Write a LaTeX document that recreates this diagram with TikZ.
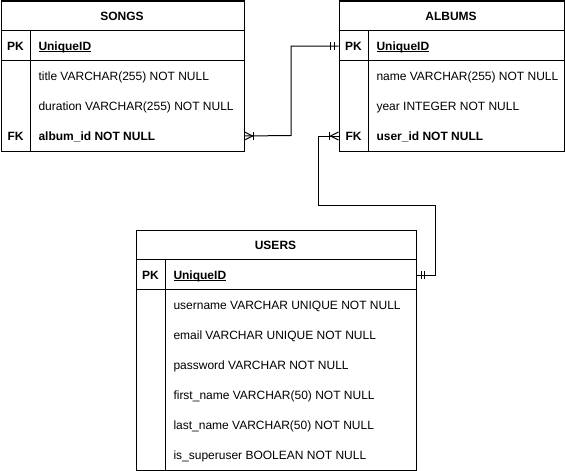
\documentclass[tikz,border=0pt]{standalone}
\usepackage{fontspec}
\setmainfont{Liberation Sans}
\usetikzlibrary{calc}
\newcommand\myul[1]{\setbox0\hbox{#1}\rlap{\rule[-2pt]{\wd0}{0.9pt}}#1}
\begin{document}
\begin{tikzpicture}[x=1pt,y=-1pt,line width=1pt,
  tbl/.style={draw,rectangle,inner sep=0pt,anchor=north west},
  rowbox/.style={rectangle,inner sep=0pt,minimum height=30pt,anchor=north west},
  hdr/.style={font=\bfseries\fontsize{12}{14}\selectfont,inner sep=0pt,anchor=base},
  keylbl/.style={font=\bfseries\fontsize{12}{14}\selectfont,inner sep=0pt,anchor=base},
  fld/.style={font=\fontsize{12}{14}\selectfont,anchor=base west,inner sep=0pt},
  fldb/.style={font=\bfseries\fontsize{12}{14}\selectfont,anchor=base west,inner sep=0pt},
  conn/.style={line width=1pt},
  ermark/.style={line width=1pt}]
\useasboundingbox (0,0) rectangle (565,471);

% ---------------- SONGS ----------------
\node[tbl,minimum width=243pt,minimum height=150pt] (songs) at (0.5,0.5) {};
\node[rowbox,minimum width=243pt] (sH) at (0.5,0.5) {};
\node[rowbox,minimum width=243pt] (sPK) at (0.5,30.5) {};
\node[rowbox,minimum width=243pt] (sR1) at (0.5,60.5) {};
\node[rowbox,minimum width=243pt] (sR2) at (0.5,90.5) {};
\node[rowbox,minimum width=243pt] (sFK) at (0.5,120.5) {};
\draw (0.5,30.5) -- (243.5,30.5);
\draw (0.5,60.5) -- (243.5,60.5);
\draw (30.5,30.5) -- (30.5,150.5);
\node[hdr] (sHt) at (122,20) {SONGS};
\node[keylbl] (sPKk) at (15.5,50) {PK};
\node[fldb] (sPKt) at (38,50) {\myul{UniqueID}};
\node[fld] (sR1t) at (38,80) {title VARCHAR(255) NOT NULL};
\node[fld] (sR2t) at (38,110) {duration VARCHAR(255) NOT NULL};
\node[keylbl] (sFKk) at (15.5,140) {FK};
\node[fldb] (sFKt) at (38,140) {album\_id NOT NULL};

% ---------------- ALBUMS ----------------
\node[tbl,minimum width=225pt,minimum height=150pt] (albums) at (338.5,0.5) {};
\node[rowbox,minimum width=225pt] (aH) at (338.5,0.5) {};
\node[rowbox,minimum width=225pt] (aPK) at (338.5,30.5) {};
\node[rowbox,minimum width=225pt] (aR1) at (338.5,60.5) {};
\node[rowbox,minimum width=225pt] (aR2) at (338.5,90.5) {};
\node[rowbox,minimum width=225pt] (aFK) at (338.5,120.5) {};
\draw (338.5,30.5) -- (563.5,30.5);
\draw (338.5,60.5) -- (563.5,60.5);
\draw (368.5,30.5) -- (368.5,150.5);
\node[hdr] (aHt) at (451,20) {ALBUMS};
\node[keylbl] (aPKk) at (353.5,50) {PK};
\node[fldb] (aPKt) at (376,50) {\myul{UniqueID}};
\node[fld] (aR1t) at (376,80) {name VARCHAR(255) NOT NULL};
\node[fld] (aR2t) at (376,110) {year INTEGER NOT NULL};
\node[keylbl] (aFKk) at (353.5,140) {FK};
\node[fldb] (aFKt) at (376,140) {user\_id NOT NULL};

% ---------------- USERS ----------------
\node[tbl,minimum width=280pt,minimum height=240pt] (users) at (135.5,229.5) {};
\node[rowbox,minimum width=280pt] (uH) at (135.5,229.5) {};
\node[rowbox,minimum width=280pt] (uPK) at (135.5,259.5) {};
\draw (135.5,259.5) -- (415.5,259.5);
\draw (135.5,289.5) -- (415.5,289.5);
\draw (165.5,259.5) -- (165.5,469.5);
\node[hdr] (uHt) at (275.5,249) {USERS};
\node[keylbl] (uPKk) at (150.5,279) {PK};
\node[fldb] (uPKt) at (173,279) {\myul{UniqueID}};
\node[fld] (u1) at (173,309) {username VARCHAR UNIQUE NOT NULL};
\node[fld] (u2) at (173,339) {email VARCHAR UNIQUE NOT NULL};
\node[fld] (u3) at (173,369) {password VARCHAR NOT NULL};
\node[fld] (u4) at (173,399) {first\_name VARCHAR(50) NOT NULL};
\node[fld] (u5) at (173,429) {last\_name VARCHAR(50) NOT NULL};
\node[fld] (u6) at (173,459) {is\_superuser BOOLEAN NOT NULL};

% ---------------- connectors ----------------
\coordinate (c1) at (291,135.5);
\draw[conn] (sFK.east) -- (c1) |- (aPK.west);
\coordinate (b1) at (318.5,205.5);
\coordinate (b2) at (435.5,205.5);
\draw[conn] (aFK.west) -| (b1) -- (b2) |- (uPK.east);

% markers: one-or-many at SONGS FK
\draw[ermark] ([yshift=4pt]sFK.east) -- ([xshift=8pt]sFK.east) -- ([yshift=-4pt]sFK.east);
\draw[ermark] ([xshift=9pt,yshift=4pt]sFK.east) -- ([xshift=9pt,yshift=-4pt]sFK.east);
% mandatory one at ALBUMS PK
\draw[ermark] ([xshift=-4pt,yshift=4pt]aPK.west) -- ([xshift=-4pt,yshift=-4pt]aPK.west);
\draw[ermark] ([xshift=-8pt,yshift=4pt]aPK.west) -- ([xshift=-8pt,yshift=-4pt]aPK.west);
% one-or-many at ALBUMS FK
\draw[ermark] ([yshift=4pt]aFK.west) -- ([xshift=-8pt]aFK.west) -- ([yshift=-4pt]aFK.west);
\draw[ermark] ([xshift=-9pt,yshift=4pt]aFK.west) -- ([xshift=-9pt,yshift=-4pt]aFK.west);
% mandatory one at USERS PK
\draw[ermark] ([xshift=4.5pt,yshift=4pt]uPK.east) -- ([xshift=4.5pt,yshift=-4pt]uPK.east);
\draw[ermark] ([xshift=8pt,yshift=4pt]uPK.east) -- ([xshift=8pt,yshift=-4pt]uPK.east);
\end{tikzpicture}
\end{document}
